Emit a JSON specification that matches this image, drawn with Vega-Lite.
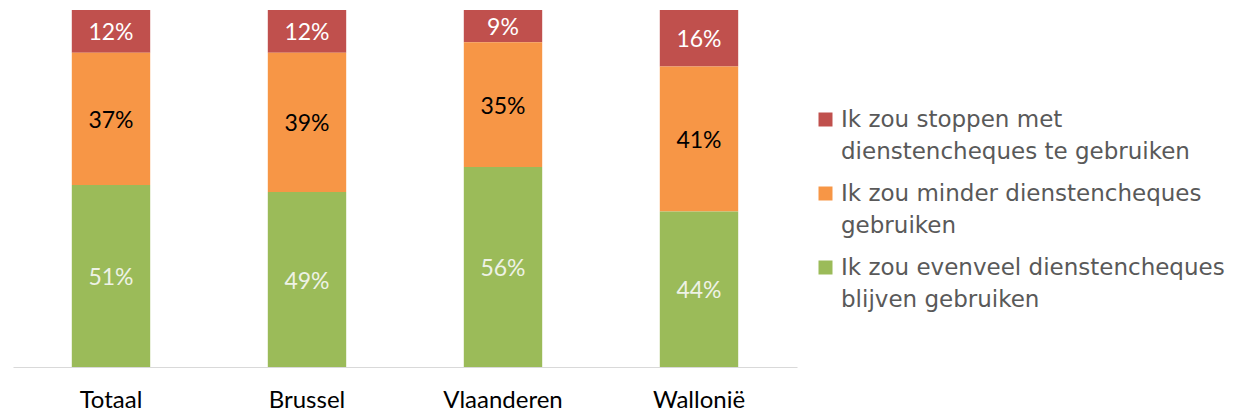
{
  "$schema": "https://vega.github.io/schema/vega-lite/v6.json",
  "width": 784,
  "height": 357,
  "autosize": {"type": "none"},
  "padding": {"left": 13, "top": 10, "right": 436, "bottom": 45},
  "background": "white",
  "config": {"view": {"stroke": null}},
  "data": {
    "values": [
      {"regio": "Totaal", "antwoord": "Ik zou stoppen met dienstencheques te gebruiken", "pct": 0.12, "volgorde": 3},
      {"regio": "Totaal", "antwoord": "Ik zou minder dienstencheques gebruiken", "pct": 0.37, "volgorde": 2},
      {"regio": "Totaal", "antwoord": "Ik zou evenveel dienstencheques blijven gebruiken", "pct": 0.51, "volgorde": 1},
      {"regio": "Brussel", "antwoord": "Ik zou stoppen met dienstencheques te gebruiken", "pct": 0.12, "volgorde": 3},
      {"regio": "Brussel", "antwoord": "Ik zou minder dienstencheques gebruiken", "pct": 0.39, "volgorde": 2},
      {"regio": "Brussel", "antwoord": "Ik zou evenveel dienstencheques blijven gebruiken", "pct": 0.49, "volgorde": 1},
      {"regio": "Vlaanderen", "antwoord": "Ik zou stoppen met dienstencheques te gebruiken", "pct": 0.09, "volgorde": 3},
      {"regio": "Vlaanderen", "antwoord": "Ik zou minder dienstencheques gebruiken", "pct": 0.35, "volgorde": 2},
      {"regio": "Vlaanderen", "antwoord": "Ik zou evenveel dienstencheques blijven gebruiken", "pct": 0.56, "volgorde": 1},
      {"regio": "Wallonië", "antwoord": "Ik zou stoppen met dienstencheques te gebruiken", "pct": 0.16, "volgorde": 3},
      {"regio": "Wallonië", "antwoord": "Ik zou minder dienstencheques gebruiken", "pct": 0.41, "volgorde": 2},
      {"regio": "Wallonië", "antwoord": "Ik zou evenveel dienstencheques blijven gebruiken", "pct": 0.44, "volgorde": 1}
    ]
  },
  "encoding": {
    "x": {
      "field": "regio",
      "type": "nominal",
      "sort": ["Totaal", "Brussel", "Vlaanderen", "Wallonië"],
      "scale": {"paddingInner": 0.6, "paddingOuter": 0.3},
      "axis": {
        "title": null,
        "labelAngle": 0,
        "labelFont": "Lato",
        "labelFontSize": 24,
        "labelColor": "#000000",
        "labelPadding": 21,
        "ticks": false,
        "domainColor": "#D9D9D9",
        "domainWidth": 1
      }
    },
    "y": {
      "field": "pct",
      "type": "quantitative",
      "stack": "normalize",
      "axis": null
    },
    "order": {"field": "volgorde", "type": "quantitative"}
  },
  "layer": [
    {
      "mark": {"type": "bar"},
      "encoding": {
        "color": {
          "field": "antwoord",
          "type": "nominal",
          "scale": {
            "domain": [
              "Ik zou stoppen met dienstencheques te gebruiken",
              "Ik zou minder dienstencheques gebruiken",
              "Ik zou evenveel dienstencheques blijven gebruiken"
            ],
            "range": ["#C0504D", "#F79646", "#9BBB59"]
          },
          "legend": {
            "title": null,
            "orient": "none",
            "legendX": 801,
            "legendY": 98,
            "symbolType": "square",
            "symbolSize": 196,
            "symbolStrokeWidth": 0,
            "labelFont": "DejaVu Sans",
            "labelFontSize": 23,
            "labelColor": "#595959",
            "labelLimit": 500,
            "labelOffset": 4,
            "rowPadding": 18,
            "encode": {"labels": {"update": {"lineHeight": {"value": 32}}}},
            "labelExpr": "datum.label == 'Ik zou stoppen met dienstencheques te gebruiken' ? ['Ik zou stoppen met', 'dienstencheques te gebruiken'] : datum.label == 'Ik zou minder dienstencheques gebruiken' ? ['Ik zou minder dienstencheques', 'gebruiken'] : ['Ik zou evenveel dienstencheques', 'blijven gebruiken']"
          }
        }
      }
    },
    {
      "mark": {"type": "text", "font": "Lato", "fontSize": 23, "dy": 2},
      "encoding": {
        "y": {
          "field": "pct",
          "type": "quantitative",
          "stack": "normalize",
          "bandPosition": 0.5
        },
        "text": {"field": "pct", "type": "quantitative", "format": ".0%"},
        "color": {
          "condition": [
            {"test": "datum.volgorde == 2", "value": "#000000"},
            {"test": "datum.volgorde == 1", "value": "#EEF2E6"}
          ],
          "value": "#FFFFFF"
        }
      }
    }
  ]
}
